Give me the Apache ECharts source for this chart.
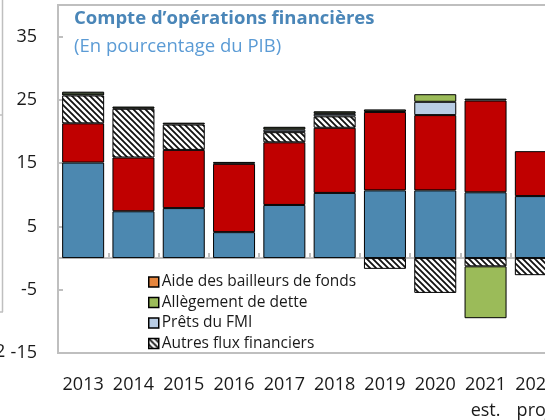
<!DOCTYPE html>
<html>
<head>
<meta charset="utf-8">
<script src="https://cdn.jsdelivr.net/npm/echarts@6/dist/echarts.min.js"></script>
<style>
  html, body { margin: 0; padding: 0; background: #fff; overflow: hidden; }
  #chart { width: 580px; height: 420px; }
</style>
</head>
<body>
<div id="chart"></div>
<script>
// categories
var years = ['2013', '2014', '2015', '2016', '2017', '2018', '2019', '2020', '2021\nest.', '2022\nproj.'];
// series values (% of GDP)
var baseBlue   = [15.1, 7.4, 7.9, 4.1, 8.4, 10.3, 10.7, 10.7, 10.4, 9.8];
var baseRed    = [6.2, 8.5, 9.2, 10.8, 9.9, 10.3, 12.4, 11.9, 14.5, 7.1];
var autresFlux = [4.4, 7.7, 4.0, 0, 1.6, 1.8, -1.7, -5.5, -1.3, -2.7];
var pretsFmi   = [0, 0, 0, 0, 0.4, 0.4, 0, 2.1, 0, 0];
var allegement = [0, 0, 0, 0, 0, 0, 0, 1.2, -8.2, 0];
var topThin    = [0.6, 0.35, 0.3, 0.3, 0.45, 0.4, 0.4, 0, 0.3, 0];
var aideBail   = [0, 0, 0, 0, 0, 0, 0, 0, 0, 0];
// tick labels
var yTicks = [-15, -5, 5, 15, 25, 35];

function hatch() {
  var c = document.createElement('canvas');
  c.width = 6; c.height = 6;
  var g = c.getContext('2d');
  g.fillStyle = '#fff';
  g.fillRect(0, 0, 6, 6);
  g.strokeStyle = '#111';
  g.lineWidth = 1.8;
  g.beginPath();
  g.moveTo(-1, -1); g.lineTo(7, 7);
  g.moveTo(5, -1); g.lineTo(7, 1);
  g.moveTo(-1, 5); g.lineTo(1, 7);
  g.stroke();
  return c;
}

function nz(arr) {
  return arr.map(function (v) { return v === 0 ? '-' : v; });
}

function bar(name, data, color) {
  return {
    name: name,
    type: 'bar',
    stack: 'total',
    barWidth: 42,
    data: nz(data),
    itemStyle: { color: color, borderColor: '#000', borderWidth: 1 }
  };
}

var font = 'Open Sans';
var grey = '#bfbfbf';
var chart = echarts.init(document.getElementById('chart'));
chart.setOption({
  animation: false,
  textStyle: { fontFamily: font },
  title: {
    text: 'Compte d\u2019opérations financières',
    subtext: '(En pourcentage du PIB)',
    left: 74,
    top: 9,
    padding: 0,
    itemGap: 9,
    textStyle: { fontSize: 18.5, fontWeight: 'bold', color: '#4a86b8', fontFamily: font },
    subtextStyle: { fontSize: 18.5, color: '#5b9bd5', fontFamily: font }
  },
  legend: {
    orient: 'vertical',
    left: 148,
    top: 274,
    padding: 0,
    itemWidth: 10,
    itemHeight: 10,
    itemGap: 4.5,
    icon: 'rect',
    data: ['Aide des bailleurs de fonds', 'Allègement de dette', 'Prêts du FMI', 'Autres flux financiers'],
    itemStyle: { borderColor: '#000', borderWidth: 1.5 },
    textStyle: { fontSize: 15.5, color: '#1a1a1a', fontFamily: font, padding: [0, 0, 0, -2] }
  },
  grid: {
    left: 58,
    top: 5,
    right: 19,
    bottom: 67,
    outerBoundsMode: 'none',
    show: true,
    borderColor: grey,
    borderWidth: 2
  },
  xAxis: [
    {
      type: 'category',
      data: years,
      position: 'bottom',
      axisLine: { onZero: true, lineStyle: { color: grey, width: 2 } },
      axisTick: { show: true, inside: true, length: 5, interval: 0, lineStyle: { color: grey, width: 2 } },
      axisLabel: { show: false }
    },
    {
      type: 'category',
      data: years,
      position: 'bottom',
      axisLine: { show: false, onZero: false },
      axisTick: { show: false },
      axisLabel: { interval: 0, margin: 19, fontSize: 18, lineHeight: 26, color: '#1a1a1a', fontFamily: font }
    }
  ],
  yAxis: {
    type: 'value',
    min: -15,
    max: 40,
    interval: 5,
    splitLine: { show: false },
    axisLine: { show: true, lineStyle: { color: grey, width: 2 } },
    axisTick: { show: true, inside: true, length: 5, customValues: yTicks, lineStyle: { color: grey, width: 2 } },
    axisLabel: { customValues: yTicks, margin: 21, fontSize: 18, color: '#1a1a1a', fontFamily: font }
  },
  series: [
    bar('Série bleue', baseBlue, '#4c88b0'),
    bar('Série rouge', baseRed, '#c00000'),
    bar('Autres flux financiers', autresFlux, { image: hatch(), repeat: 'repeat' }),
    bar('Prêts du FMI', pretsFmi, '#b9cde5'),
    bar('Allègement de dette', allegement, '#9bbb59'),
    bar('Série fine', topThin, '#3b4632'),
    bar('Aide des bailleurs de fonds', aideBail, '#e5853d')
  ],
  graphic: [
    // top edge of the frame
    { type: 'line', shape: { x1: 58, y1: 5, x2: 580, y2: 5 }, style: { stroke: grey, lineWidth: 2 } },
    // edge of the neighbouring panel on the left
    { type: 'line', shape: { x1: 2.5, y1: 0, x2: 2.5, y2: 312 }, style: { stroke: grey, lineWidth: 1.5 } },
    { type: 'line', shape: { x1: 0, y1: 115, x2: 3, y2: 115 }, style: { stroke: grey, lineWidth: 1.5 } },
    { type: 'line', shape: { x1: 0, y1: 312, x2: 3, y2: 312 }, style: { stroke: grey, lineWidth: 1.5 } },
    { type: 'text', x: -5, y: 343, style: { text: '2', fontSize: 18, fill: '#1a1a1a', fontFamily: font } }
  ]
});
</script>
</body>
</html>
